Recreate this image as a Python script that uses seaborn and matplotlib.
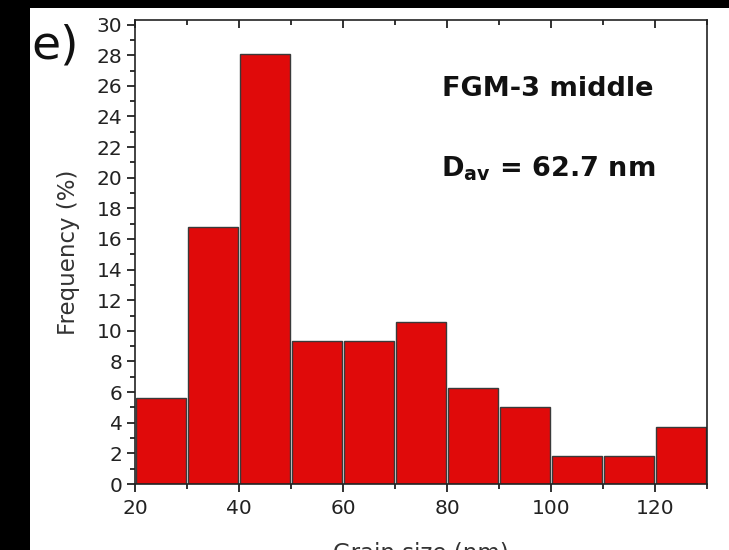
import matplotlib
matplotlib.use("Agg")
import matplotlib.pyplot as plt
import seaborn as sns
from matplotlib.patches import Rectangle
from matplotlib.ticker import MultipleLocator

bin_edges = [20, 30, 40, 50, 60, 70, 80, 90, 100, 110, 120, 130]
frequency = [5.6, 16.8, 28.1, 9.35, 9.35, 10.6, 6.25, 5.0, 1.83, 1.83, 3.75]
bin_centers = [(a + b) / 2 for a, b in zip(bin_edges[:-1], bin_edges[1:])]
x_ticks = [20, 40, 60, 80, 100, 120]
y_ticks = list(range(0, 31, 2))

sns.set_style("ticks")
plt.rcParams['font.family'] = ['DejaVu Sans']

fig = plt.figure(figsize=(7.29, 5.5), dpi=100)
ax = fig.add_axes([135 / 729, 1 - 484 / 550, (707 - 135) / 729, (484 - 20) / 550])

sns.histplot(x=bin_centers, weights=frequency, bins=bin_edges, ax=ax, shrink=0.97,
             color="#e00a0a", alpha=1, edgecolor="#3a3a3a", linewidth=1.0)

ax.set_xlim(20, 130)
ax.set_ylim(0, 30.3)
ax.set_xticks(x_ticks)
ax.set_yticks(y_ticks)
ax.xaxis.set_minor_locator(MultipleLocator(10))
ax.yaxis.set_minor_locator(MultipleLocator(1))
ax.tick_params(axis='both', which='major', direction='out', length=6, width=1.3,
               labelsize=14.5, colors='#222222', labelcolor='#222222')
ax.tick_params(axis='both', which='minor', direction='out', length=3.5, width=1.3,
               colors='#222222')
ax.tick_params(axis='x', which='both', top=True, labeltop=False, pad=5)
ax.tick_params(axis='y', which='both', pad=3)
for t in ax.xaxis.get_major_ticks() + ax.xaxis.get_minor_ticks():
    t.tick2line.set_marker(3)  # inward from top spine
for spine in ax.spines.values():
    spine.set_visible(True)
    spine.set_linewidth(1.2)
    spine.set_color('#222222')

ax.set_ylabel("Frequency (%)", fontsize=16.5, color='#333333')
ax.yaxis.set_label_coords(-0.097, 0.5)
ax.set_xlabel("Grain size (nm)", fontsize=16.5, color='#333333')
ax.xaxis.set_label_coords(0.5, -0.125)

ax.text(0.722, 0.852, "FGM-3 middle", transform=ax.transAxes, fontsize=19.5,
        fontweight='bold', ha='center', va='center', color='#111111')
ax.text(0.722, 0.68, r"D$_{\mathbf{av}}$ = 62.7 nm", transform=ax.transAxes, fontsize=19.5,
        fontweight='bold', ha='center', va='center', color='#111111')

fig.text(55 / 729, 1 - 46 / 550, "e)", fontsize=34, ha='center', va='center', color='#111111')

# black frame bands of the original screenshot
fig.patches.append(Rectangle((0, 0), 30 / 729, 1, transform=fig.transFigure,
                             facecolor='black', edgecolor='none', zorder=10))
fig.patches.append(Rectangle((0, 1 - 8 / 550), 1, 8 / 550, transform=fig.transFigure,
                             facecolor='black', edgecolor='none', zorder=10))

fig.savefig("out.png", dpi=100)
